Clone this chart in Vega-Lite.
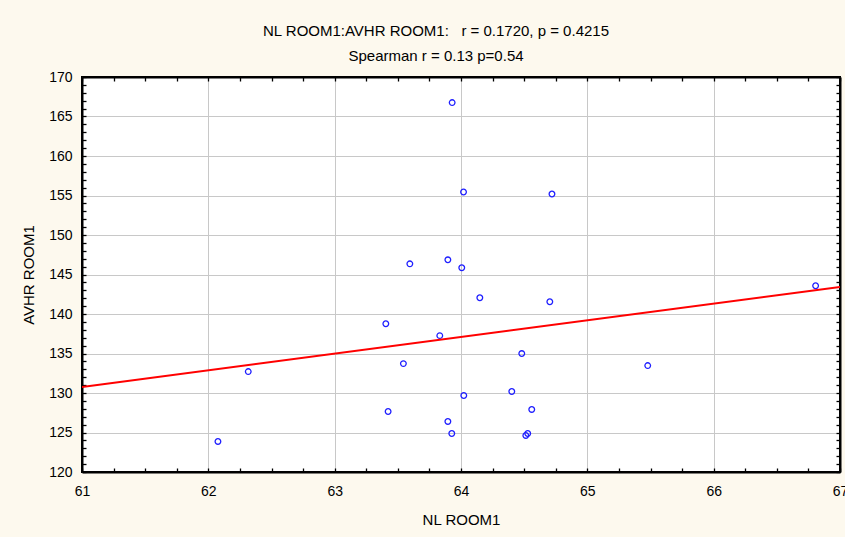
{
  "$schema": "https://vega.github.io/schema/vega-lite/v6.json",
  "width": 758,
  "height": 395,
  "autosize": {"type": "none"},
  "padding": {"left": 82, "top": 77, "right": 5, "bottom": 65},
  "background": "#fdf9ee",
  "config": {
    "font": "Liberation Sans",
    "view": {"fill": "#ffffff", "stroke": "#000000", "strokeWidth": 2},
    "axis": {
      "domainColor": "#000000",
      "domainWidth": 2,
      "tickColor": "#000000",
      "tickWidth": 1.3,
      "tickSize": -4,
      "gridColor": "#c8c8c8",
      "gridWidth": 1,
      "labelColor": "#000000",
      "labelFontSize": 14,
      "labelFlush": false,
      "labelOverlap": false,
      "labelBound": false,
      "titleColor": "#000000",
      "titleFontSize": 15,
      "titleFontWeight": "normal"
    }
  },
  "title": {
    "text": ["NL ROOM1:AVHR ROOM1:\u00a0\u00a0 r = 0.1720, p = 0.4215", "Spearman r = 0.13 p=0.54"],
    "fontSize": 15,
    "fontWeight": "normal",
    "color": "#000000",
    "anchor": "middle",
    "frame": "group",
    "dx": -25,
    "lineHeight": 25,
    "offset": 6
  },
  "data": {
    "values": [
      {"nl": 63.93, "avhr": 166.76},
      {"nl": 63.595, "avhr": 146.35},
      {"nl": 63.896, "avhr": 146.86},
      {"nl": 64.006, "avhr": 145.85},
      {"nl": 64.02, "avhr": 155.44},
      {"nl": 64.72, "avhr": 155.19},
      {"nl": 63.405, "avhr": 138.77},
      {"nl": 63.832, "avhr": 137.26},
      {"nl": 63.544, "avhr": 133.72},
      {"nl": 62.316, "avhr": 132.71},
      {"nl": 63.423, "avhr": 127.66},
      {"nl": 63.896, "avhr": 126.4},
      {"nl": 63.927, "avhr": 124.88},
      {"nl": 62.076, "avhr": 123.87},
      {"nl": 64.149, "avhr": 142.06},
      {"nl": 64.703, "avhr": 141.55},
      {"nl": 66.807, "avhr": 143.57},
      {"nl": 64.481, "avhr": 134.99},
      {"nl": 65.478, "avhr": 133.47},
      {"nl": 64.402, "avhr": 130.19},
      {"nl": 64.022, "avhr": 129.68},
      {"nl": 64.56, "avhr": 127.92},
      {"nl": 64.528, "avhr": 124.88},
      {"nl": 64.513, "avhr": 124.63}
    ]
  },
  "resolve": {"axis": {"x": "independent", "y": "independent"}},
  "layer": [
    {
      "mark": {"type": "point", "shape": "circle", "filled": false, "color": "#1f1fff", "size": 32, "strokeWidth": 1.3, "opacity": 1},
      "encoding": {
        "x": {
          "field": "nl",
          "type": "quantitative",
          "scale": {"domain": [61, 67], "nice": false, "zero": false},
          "axis": {
            "orient": "bottom",
            "title": "NL ROOM1",
            "titlePadding": 14,
            "values": [61, 61.25, 61.5, 61.75, 62, 62.25, 62.5, 62.75, 63, 63.25, 63.5, 63.75, 64, 64.25, 64.5, 64.75, 65, 65.25, 65.5, 65.75, 66, 66.25, 66.5, 66.75, 67],
            "labelExpr": "datum.value % 1 === 0 ? format(datum.value, 'd') : ''",
            "gridOpacity": {"condition": {"test": "datum.value % 1 === 0", "value": 1}, "value": 0},
            "labelPadding": 16
          }
        },
        "y": {
          "field": "avhr",
          "type": "quantitative",
          "scale": {"domain": [120, 170], "nice": false, "zero": false},
          "axis": {
            "orient": "left",
            "title": "AVHR ROOM1",
            "titlePadding": 12,
            "values": [120, 121, 122, 123, 124, 125, 126, 127, 128, 129, 130, 131, 132, 133, 134, 135, 136, 137, 138, 139, 140, 141, 142, 143, 144, 145, 146, 147, 148, 149, 150, 151, 152, 153, 154, 155, 156, 157, 158, 159, 160, 161, 162, 163, 164, 165, 166, 167, 168, 169, 170],
            "labelExpr": "datum.value % 5 === 0 ? format(datum.value, 'd') : ''",
            "gridOpacity": {"condition": {"test": "datum.value % 5 === 0", "value": 1}, "value": 0},
            "labelPadding": 14
          }
        }
      }
    },
    {
      "transform": [{"regression": "avhr", "on": "nl", "extent": [61, 67]}],
      "mark": {"type": "line", "color": "#ff0000", "strokeWidth": 2, "clip": true},
      "encoding": {
        "x": {
          "field": "nl",
          "type": "quantitative",
          "axis": {
            "orient": "top",
            "title": null,
            "labels": false,
            "grid": false,
            "values": [61, 61.25, 61.5, 61.75, 62, 62.25, 62.5, 62.75, 63, 63.25, 63.5, 63.75, 64, 64.25, 64.5, 64.75, 65, 65.25, 65.5, 65.75, 66, 66.25, 66.5, 66.75, 67]
          }
        },
        "y": {
          "field": "avhr",
          "type": "quantitative",
          "axis": {
            "orient": "right",
            "title": null,
            "labels": false,
            "grid": false,
            "values": [120, 121, 122, 123, 124, 125, 126, 127, 128, 129, 130, 131, 132, 133, 134, 135, 136, 137, 138, 139, 140, 141, 142, 143, 144, 145, 146, 147, 148, 149, 150, 151, 152, 153, 154, 155, 156, 157, 158, 159, 160, 161, 162, 163, 164, 165, 166, 167, 168, 169, 170]
          }
        }
      }
    }
  ]
}
